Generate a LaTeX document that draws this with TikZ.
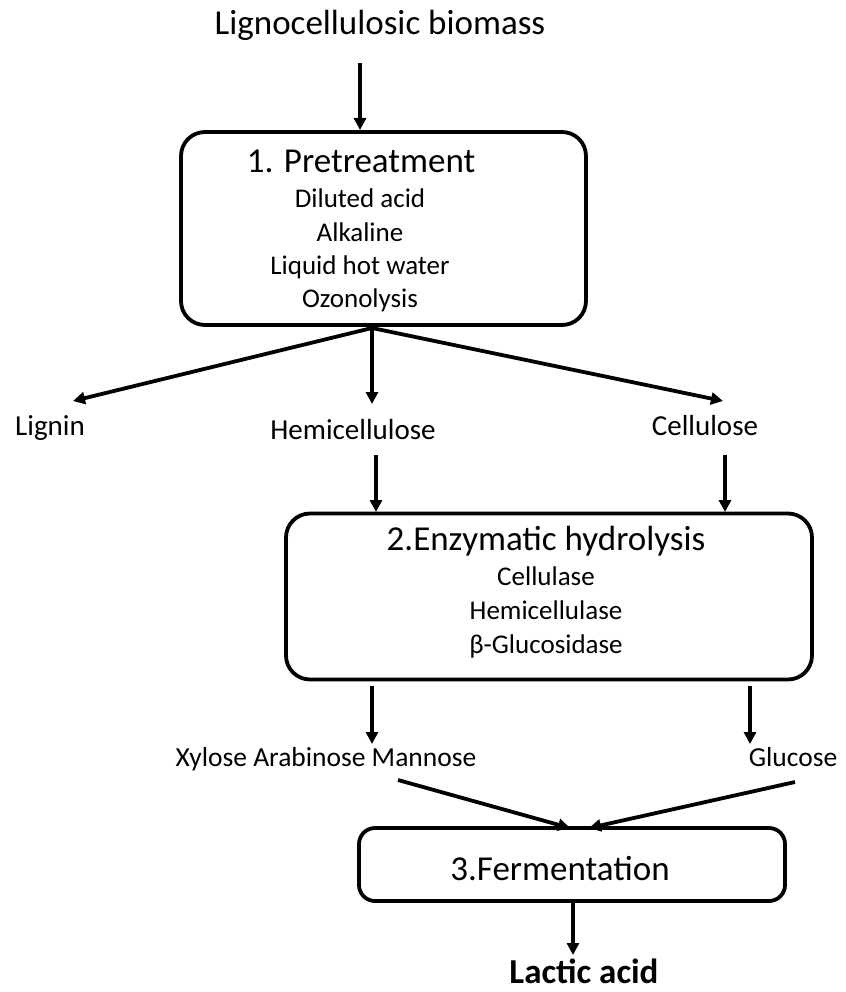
\documentclass[tikz,border=0pt]{standalone}
\usepackage{fontspec}
\setmainfont{Carlito}
\usetikzlibrary{arrows.meta}
\begin{document}
\begin{tikzpicture}[x=1pt,y=-1pt,
  boxstyle/.style={draw,line width=3.8pt,rounded corners=#1,inner sep=0pt},
  boxstyle/.default=24pt,
  title/.style={anchor=base,inner sep=0pt,font=\fontsize{35}{40}\selectfont},
  item/.style={anchor=base,inner sep=0pt,font=\fontsize{27}{32}\selectfont},
  lab/.style={anchor=base,inner sep=0pt,font=\fontsize{29}{34}\selectfont},
  arr/.style={line width=3.8pt,-{Triangle[length=12pt,width=12pt]}}]
\useasboundingbox (0,0) rectangle (845,992);
% texts
\node[title] (bio) at (380,35) {Lignocellulosic biomass};
% box 1
\node[boxstyle,minimum width=405pt,minimum height=193pt] (b1) at (383.5,228.5) {};
\node[title] (t1) at (361,173) {1. Pretreatment};
\node[item] (i11) at (360,208) {Diluted acid};
\node[item] (i12) at (360,241) {Alkaline};
\node[item] (i13) at (360,274) {Liquid hot water};
\node[item] (i14) at (360,307) {Ozonolysis};
% labels
\node[lab] (lig) at (50,435) {Lignin};
\node[lab] (hemi) at (353,439) {Hemicellulose};
\node[lab] (cell) at (705,435) {Cellulose};
% box 2
\node[boxstyle,minimum width=526pt,minimum height=166pt] (b2) at (549,596.5) {};
\node[title] (t2) at (546,550) {2.Enzymatic hydrolysis};
\node[item] (i21) at (546,585) {Cellulase};
\node[item] (i22) at (546,619) {Hemicellulase};
\node[item] (i23) at (546,653) {β-Glucosidase};
% sugars
\node[lab,font=\fontsize{27.5}{32}\selectfont] (xyl) at (326,766) {Xylose Arabinose Mannose};
\node[lab,font=\fontsize{27.5}{32}\selectfont] (glu) at (793,766) {Glucose};
% box 3
\node[boxstyle=16pt,minimum width=426pt,minimum height=73pt] (b3) at (572,864.5) {};
\node[title] (t3) at (560,880) {3.Fermentation};
\node[title,font=\bfseries\fontsize{35}{40}\selectfont] (la) at (584,983) {Lactic acid};
% coordinates
\coordinate (a0) at (360,63);
\coordinate (a1) at (360,130);
\coordinate (p) at (372,328);
\coordinate (pl) at (73,401);
\coordinate (ph) at (372,404);
\coordinate (pc) at (723,401);
\coordinate (h0) at (376,455);
\coordinate (h1) at (376,512);
\coordinate (c0) at (725,455);
\coordinate (c1) at (725,512);
\coordinate (x0) at (372,686);
\coordinate (x1) at (372,744);
\coordinate (g0) at (750,686);
\coordinate (g1) at (750,744);
\coordinate (s0) at (398,780);
\coordinate (s1) at (570,828);
\coordinate (u0) at (795,782);
\coordinate (u1) at (589,828);
\coordinate (f0) at (573,902);
\coordinate (f1) at (573,955);
% arrows
\draw[arr] (a0) -- (a1);
\draw[arr] (p) -- (pl);
\draw[arr] (p) -- (ph);
\draw[arr] (p) -- (pc);
\draw[arr] (h0) -- (h1);
\draw[arr] (c0) -- (c1);
\draw[arr] (x0) -- (x1);
\draw[arr] (g0) -- (g1);
\draw[arr] (s0) -- (s1);
\draw[arr] (u0) -- (u1);
\draw[arr] (f0) -- (f1);
\end{tikzpicture}
\end{document}
